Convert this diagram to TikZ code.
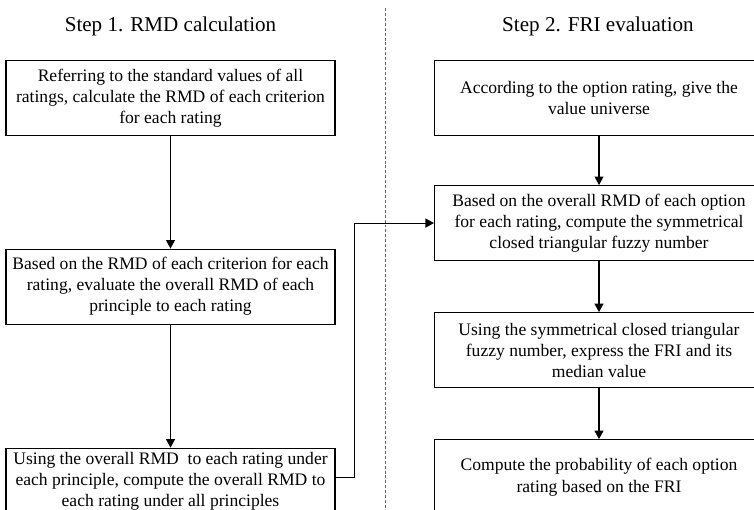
\documentclass[tikz,border=0pt]{standalone}
\usepackage{fontspec}
\setmainfont{Liberation Serif}
\usetikzlibrary{positioning,arrows.meta}

\begin{document}
\begin{tikzpicture}
    \tikzstyle{procbox} = [draw,rectangle,line width=0.6pt,align=center,minimum width=6.58cm,minimum height=1.5cm,inner sep=2pt,font=\fontsize{10}{12}\selectfont]
    \tikzstyle{steptitle} = [font=\fontsize{12}{14.4}\selectfont]
    \tikzstyle{flow} = [line width=0.6pt,-{Triangle[length=1.7mm,width=1.8mm]}]
    \useasboundingbox (0,0) rectangle (15.08,-10.18);
    \clip (0,0) rectangle (15.08,-10.18);
    % step 1
    \node[steptitle] (title1) at (3.41,-0.53) {Step 1. RMD calculation};
    \node[procbox] (crit) at (3.41,-1.96) {Referring to the standard values of all\\ratings, calculate the RMD of each criterion\\for each rating};
    \node[procbox] (prin) [below = 2.25cm of crit] {Based on the RMD of each criterion for each\\rating, evaluate the overall RMD of each\\principle to each rating};
    \node[procbox,minimum height=1.34cm] (all) [below = 2.46cm of prin] {Using the overall RMD\ \ to each rating under\\each principle, compute the overall RMD to\\each rating under all principles};
    % step 2
    \node[steptitle] (title2) at (11.96,-0.53) {Step 2. FRI evaluation};
    \node[procbox] (univ) at (11.98,-1.96) {According to the option rating, give the\\value universe};
    \node[procbox] (fuzzy) [below = 0.98cm of univ] {Based on the overall RMD of each option\\for each rating, compute the symmetrical\\closed triangular fuzzy number};
    \node[procbox] (fri) [below = 1.02cm of fuzzy] {Using the symmetrical closed triangular\\fuzzy number, express the FRI and its\\median value};
    \node[procbox] (prob) [below = 1.02cm of fri] {Compute the probability of each option\\rating based on the FRI};
    % divider
    \coordinate (divtop) at (7.7,-0.16);
    \coordinate (divbot) at (7.7,-10.18);
    \draw[gray!80!black,line width=0.5pt,dash pattern=on 1.7pt off 1.1pt] (divtop) -- (divbot);
    % arrows
    \draw[flow] (crit) -- (prin);
    \draw[flow] (prin) -- (all);
    \draw[flow] ([yshift=0.08cm]all.east) -- ++(0.38,0) |- (fuzzy.west);
    \draw[flow] (univ) -- (fuzzy);
    \draw[flow] (fuzzy) -- (fri);
    \draw[flow] (fri) -- (prob);
\end{tikzpicture}
\end{document}
